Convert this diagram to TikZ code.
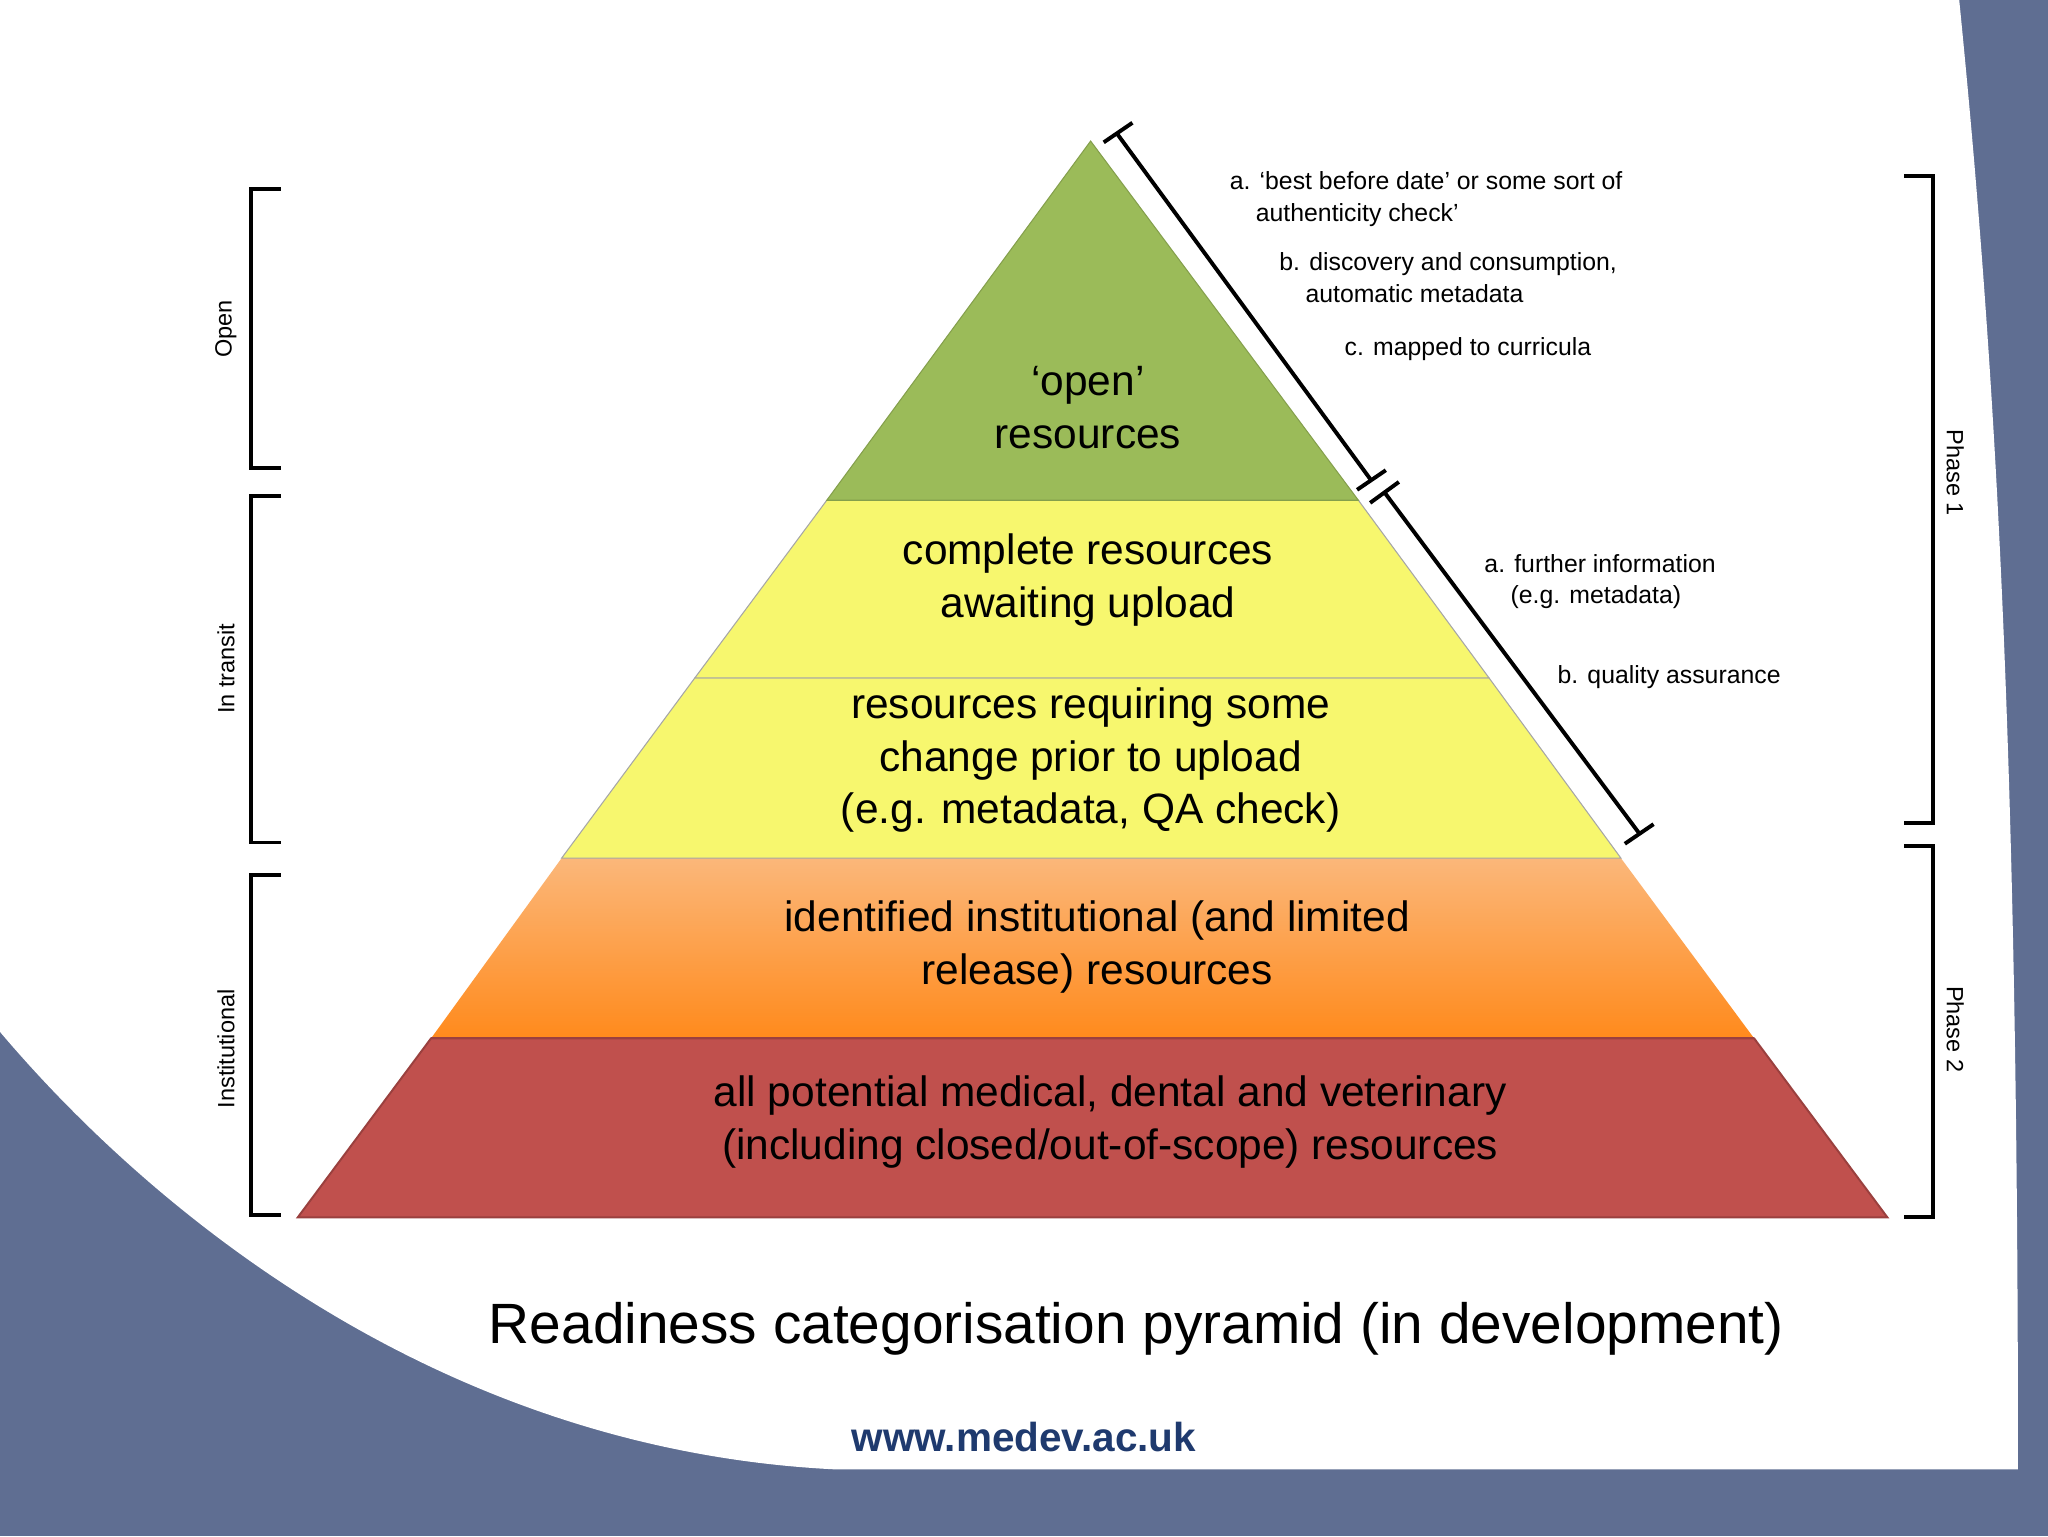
\documentclass[tikz,border=0pt]{standalone}
\usepackage{fontspec}
\setmainfont{Liberation Sans}
\definecolor{bgblue}{HTML}{5F6E92}
\definecolor{pgreen}{HTML}{9BBB59}
\definecolor{pyellow}{HTML}{F7F76E}
\definecolor{porangeT}{HTML}{FBB77A}
\definecolor{porangeB}{HTML}{FF8A1C}
\definecolor{pred}{HTML}{C0504D}
\definecolor{urlblue}{HTML}{1F3A6E}
\begin{document}
\begin{tikzpicture}[x=1pt,y=-1pt,
  layer/.style={draw=black!35,line width=0.8pt},
  ptext/.style={align=center,font=\fontsize{32.5}{40}\selectfont},
  ann/.style={align=left,anchor=north west,font=\fontsize{19}{24}\selectfont},
  brk/.style={line width=3pt},
  side/.style={font=\fontsize{18}{22}\selectfont}]
\useasboundingbox (0,0) rectangle (1568,1176);
\fill[bgblue] (0,0) rectangle (1568,1176);
\fill[white] (0,0) -- (1500,0) .. controls (1530,300) and (1545,600) .. (1545,1125) -- (640,1125) .. controls (330,1110) and (110,920) .. (0,790) -- cycle;
% pyramid layers
\fill[pred,draw=pred!80!black,line width=1.5pt] (228,932) -- (1445,932) -- (1343,795) -- (330,795) -- cycle;
\shade[top color=porangeT,bottom color=porangeB] (330,795) -- (1343,795) -- (1241,657) -- (430,657) -- cycle;
\fill[pyellow,layer] (430,657) -- (1241,657) -- (1140,519) -- (532,519) -- cycle;
\fill[pyellow,layer] (532,519) -- (1140,519) -- (1040,383) -- (633,383) -- cycle;
\fill[pgreen,draw=pgreen!85!black,line width=0.8pt] (633,383) -- (1040,383) -- (835,108) -- cycle;
\draw[pred!80!black,line width=1.5pt] (330,795) -- (1343,795);
\node[ptext] (t1) at (833,312) {‘open’\\resources};
\node[ptext] (t2) at (833,444) {complete resources\\awaiting upload};
\node[ptext] (t3) at (835,582) {resources requiring some\\change prior to upload\\(e.g. metadata, QA check)};
\node[ptext] (t4) at (840,725) {identified institutional (and limited\\release) resources};
\node[ptext] (t5) at (850,859) {all potential medical, dental and veterinary\\(including closed/out-of-scope) resources};
% diagonal bars
\coordinate (d1a) at (855,102); \coordinate (d1b) at (1050,368);
\coordinate (d2a) at (1060,377); \coordinate (d2b) at (1255,638);
\draw[line width=3pt] (d1a) -- (d1b);
\draw[line width=3pt] (d2a) -- (d2b);
\draw[line width=3pt] (845,109) -- (867,94);
\draw[line width=3pt] (1039,375) -- (1061,360);
\draw[line width=3pt] (1049,385) -- (1071,369);
\draw[line width=3pt] (1244,646) -- (1266,631);
% annotations
\node[ann] (a1) at (938,128) {a. ‘best before date’ or some sort of\\\hspace*{20pt}authenticity check’};
\node[ann] (a2) at (976,190) {b. discovery and consumption,\\\hspace*{20pt}automatic metadata};
\node[ann] (a3) at (1026,255) {c. mapped to curricula};
\node[ann] (a4) at (1133,421) {a. further information\\\hspace*{20pt}(e.g. metadata)};
\node[ann] (a5) at (1189,506) {b. quality assurance};
% left brackets
\draw[brk] (215,145) -- (192,145) -- (192,358) -- (215,358);
\draw[brk] (215,380) -- (192,380) -- (192,645) -- (215,645);
\draw[brk] (215,670) -- (192,670) -- (192,930) -- (215,930);
\node[side,rotate=90] (l1) at (173,252) {Open};
\node[side,rotate=90] (l2) at (173,512) {In transit};
\node[side,rotate=90] (l3) at (173,803) {Institutional};
% right brackets
\draw[brk] (1458,135) -- (1480,135) -- (1480,630) -- (1458,630);
\draw[brk] (1458,648) -- (1480,648) -- (1480,932) -- (1458,932);
\node[side,rotate=-90] (r1) at (1497,362) {Phase 1};
\node[side,rotate=-90] (r2) at (1497,788) {Phase 2};
% caption
\node[font=\fontsize{43.5}{50}\selectfont] (cap) at (870,1017) {Readiness categorisation pyramid (in development)};
\node[font=\fontsize{31}{36}\selectfont\bfseries,text=urlblue] (url) at (784,1100) {www.medev.ac.uk};
\end{tikzpicture}
\end{document}
